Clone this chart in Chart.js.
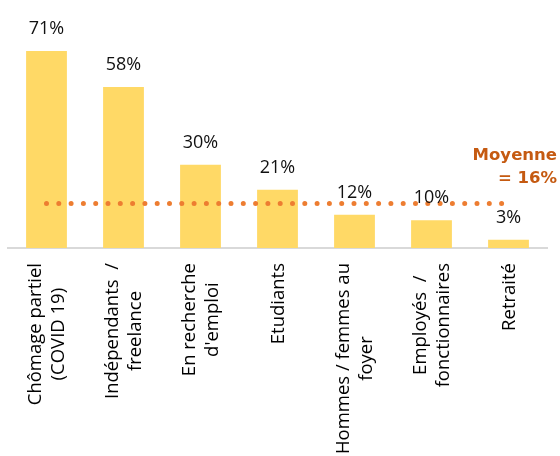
<!DOCTYPE html>
<html>
<head>
<meta charset="utf-8">
<script src="https://cdn.jsdelivr.net/npm/chart.js@4"></script>
<style>
  html, body { margin:0; padding:0; background:#fff; }
  #wrap { width:560px; height:456px; position:relative; }
</style>
</head>
<body>
<div id="wrap"><canvas id="chart"></canvas></div>
<script>
const categories = [
  ['Chômage partiel', '(COVID 19)'],
  ['Indépendants  /', 'freelance'],
  ['En recherche', "d'emploi"],
  ['Etudiants'],
  ['Hommes / femmes au', 'foyer'],
  ['Employés  /', 'fonctionnaires'],
  ['Retraité']
];
const values = [71, 58, 30, 21, 12, 10, 3];
const average = 16;
const averageLine = [16, 16, 16, 16, 16, 16, 16];
const averageLabel = ['Moyenne', '= 16%'];

// value labels above bars, centred rotated category labels, "Moyenne" note
const labelsPlugin = {
  id: 'labels',
  afterDraw(chart) {
    const ctx = chart.ctx;
    const meta = chart.getDatasetMeta(1);
    const xs = chart.scales.x;
    ctx.save();
    ctx.fillStyle = '#111';
    ctx.font = '18px "Open Sans"';
    ctx.textAlign = 'center';
    ctx.textBaseline = 'bottom';
    meta.data.forEach((bar, i) => {
      ctx.fillText(values[i] + '%', bar.x, bar.y - 13);
    });

    // category labels: rotated, lines centred on each other
    ctx.fillStyle = '#000';
    ctx.font = '18.5px "Open Sans"';
    ctx.textBaseline = 'middle';
    const lh = 23;
    categories.forEach((lines, i) => {
      const w = Math.max(...lines.map(l => ctx.measureText(l).width));
      const cx = xs.getPixelForValue(i) + 1;
      const cy = xs.bottom - 208 + 15 + w / 2;
      ctx.save();
      ctx.translate(cx, cy);
      ctx.rotate(-Math.PI / 2);
      lines.forEach((l, j) => ctx.fillText(l, 0, (j - (lines.length - 1) / 2) * lh));
      ctx.restore();
    });

    const yAvg = chart.scales.y.getPixelForValue(average);
    ctx.fillStyle = '#C55A11';
    ctx.font = 'bold 16.5px "DejaVu Sans"';
    ctx.textAlign = 'right';
    ctx.textBaseline = 'middle';
    ctx.fillText(averageLabel[0], 557, yAvg - 48);
    ctx.fillText(averageLabel[1], 557, yAvg - 25);
    ctx.restore();
  }
};

new Chart(document.getElementById('chart').getContext('2d'), {
  data: {
    labels: categories,
    datasets: [
      { type:'line', data: averageLine, borderColor:'#ED7D31', borderWidth:5, borderDash:[0, 12.3], borderCapStyle:'round', pointRadius:0, fill:false, order:0 },
      { type:'bar', data: values, backgroundColor:'#FFD966', categoryPercentage:1, barPercentage:0.53, order:1 }
    ]
  },
  options: {
    responsive:true, maintainAspectRatio:false, animation:false,
    layout:{ padding:{ top:26, left:8, right:13, bottom:0 } },
    plugins:{ legend:{display:false}, tooltip:{enabled:false} },
    scales:{
      x:{
        grid:{ display:false, drawTicks:false },
        border:{ display:true, color:'#D9D9D9', width:2 },
        ticks:{ display:false },
        afterFit: s => { s.height = 208; }
      },
      y:{ display:false, min:0, max:80 }
    }
  },
  plugins:[labelsPlugin]
});
</script>
</body>
</html>
